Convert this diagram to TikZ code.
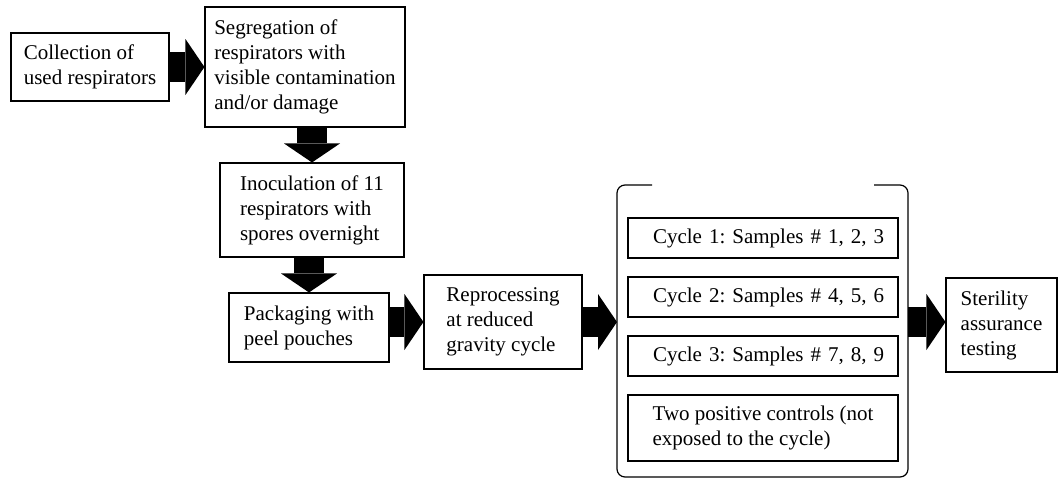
\documentclass[tikz,border=0pt]{standalone}
\usepackage{fontspec}
\setmainfont{Liberation Serif}
\usetikzlibrary{arrows.meta}

\tikzset{
    caja/.style={draw=black, line width=1.1pt, inner sep=0pt, align=left,
        font=\fontsize{21}{25}\selectfont\frenchspacing},
    flecha/.style={line width=30pt, -{Triangle[length=19pt, width=56pt, line width=0pt]}}
}

\begin{document}
\begin{tikzpicture}[x=1pt, y=-1pt]

    \useasboundingbox (0,0) rectangle (1059,479);

    % cajas del flujo
    \node[caja, minimum width=158pt, minimum height=68pt] (collect) at (90,67)
        {Collection of\\used respirators};
    \node[caja, minimum width=200pt, minimum height=120pt] (segreg) at (305,67)
        {Segregation of\\respirators with\\visible contamination\\and/or damage};
    \node[caja, minimum width=184pt, minimum height=94pt] (inocul) at (312,210)
        {Inoculation of 11\\respirators with\\spores overnight};
    \node[caja, minimum width=160pt, minimum height=69pt] (packag) at (309,327.5)
        {Packaging with\\peel pouches};
    \node[caja, minimum width=158pt, minimum height=94pt] (reproc) at (503,322)
        {Reprocessing\\at reduced\\gravity cycle};
    \node[caja, minimum width=111pt, minimum height=94pt] (steril) at (1001.5,325)
        {Sterility\\assurance\\testing};

    % ciclos
    \node[caja, minimum width=270pt, minimum height=40pt, text width=242pt, align=right] (cyc1) at (763,238)
        {Cycle 1: Samples \# 1, 2, 3};
    \node[caja, minimum width=270pt, minimum height=40pt, text width=242pt, align=right] (cyc2) at (763,297)
        {Cycle 2: Samples \# 4, 5, 6};
    \node[caja, minimum width=270pt, minimum height=40pt, text width=242pt, align=right] (cyc3) at (763,356)
        {Cycle 3: Samples \# 7, 8, 9};
    \node[caja, minimum width=270pt, minimum height=66pt] (ctrl) at (763,428)
        {Two positive controls (not\\exposed to the cycle)};

    % corchete
    \draw[line width=1.2pt, rounded corners=8pt] (652,185) -- (617,185) -- (617,477)
        -- (908,477) -- (908,185) -- (874,185);
    \coordinate (brL) at (617,322);
    \coordinate (brR) at (908,322);

    % flechas
    \draw[flecha] (collect.east) -- (segreg.west);
    \draw[flecha] (segreg.south -| inocul.north) -- (inocul.north);
    \draw[flecha] (inocul.south -| packag.north) -- (packag.north);
    \draw[flecha] (packag.east |- reproc.west) -- (reproc.west);
    \draw[flecha] (reproc.east) -- (brL);
    \draw[flecha] (brR) -- (steril.west |- brR);

\end{tikzpicture}
\end{document}
